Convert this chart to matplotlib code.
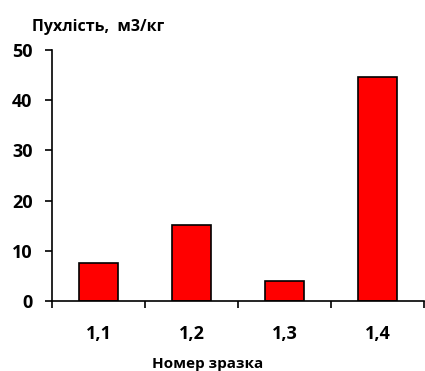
import matplotlib
matplotlib.use("Agg")
import matplotlib.pyplot as plt

# data
samples = ["1,1", "1,2", "1,3", "1,4"]
swelling = [7.6, 15.1, 4.0, 44.6]

plt.rcParams['font.family'] = ['Open Sans', 'DejaVu Sans']
plt.rcParams['font.weight'] = 'bold'

fig = plt.figure(figsize=(4.25, 3.71), dpi=100)
ax = fig.add_axes([52 / 425, 70 / 371, 372 / 425, 251 / 371])

pos = list(range(len(samples)))
ax.bar(pos, swelling, width=0.42, color="#ff0000", edgecolor="black", linewidth=1.2)

ax.set_xlim(-0.5, len(samples) - 0.5)
ax.set_ylim(0, 50)
ax.set_yticks([0, 10, 20, 30, 40, 50])
ax.set_xticks(pos)
ax.set_xticklabels(samples)
ax.set_xticks([p - 0.5 for p in pos] + [len(samples) - 0.5], minor=True)

ax.tick_params(axis="x", which="major", length=0, pad=17, labelsize=13)
ax.tick_params(axis="x", which="minor", length=5, width=1.2, direction="out")
ax.tick_params(axis="y", length=5, width=1.2, direction="out", pad=9, labelsize=13)
for lab in ax.get_xticklabels() + ax.get_yticklabels():
    lab.set_fontweight("bold")

ax.spines["top"].set_visible(False)
ax.spines["right"].set_visible(False)
ax.spines["left"].set_linewidth(1.2)
ax.spines["bottom"].set_linewidth(1.2)

fig.text(32 / 425, 1 - 27 / 371, "Пухлість,  м3/кг", fontsize=11.5, fontweight="bold", va="center", ha="left")
fig.text(208 / 425, 1 - 364 / 371, "Номер зразка", fontsize=11, fontweight="bold", va="center", ha="center")

fig.savefig("out.png", dpi=100)
